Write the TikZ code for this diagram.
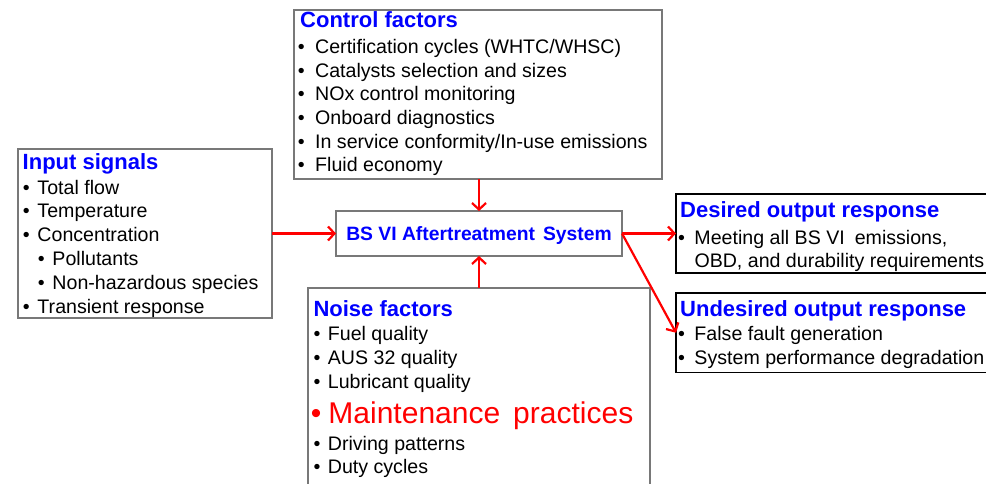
\documentclass[tikz,border=0pt]{standalone}
\usepackage{fontspec}
\setmainfont{Liberation Sans}
\usetikzlibrary{arrows.meta}
\definecolor{tblue}{RGB}{0,0,255}
\definecolor{tred}{RGB}{255,0,0}
\definecolor{bgray}{RGB}{120,120,120}
\newcommand\bu[1]{\llap{\textbullet\hspace{#1}}}
\tikzset{
 frame/.style={draw=bgray, line width=1.2pt, inner sep=0pt, outer sep=0pt, anchor=north west},
 frameblk/.style={frame, draw=black},
 ttl/.style={anchor=base west, inner sep=0pt, text=tblue, font=\fontsize{22}{26}\selectfont\bfseries},
 itm/.style={anchor=base west, inner sep=0pt, font=\fontsize{19.6}{24}\selectfont},
 arr/.style={draw=tred, line width=2.2pt, -{Straight Barb[length=6.5pt,width=14pt]}}
}
\begin{document}
\begin{tikzpicture}[x=1pt,y=-1pt]
\useasboundingbox (0,0) rectangle (986,484);
% boxes
\node[frame, minimum width=368pt, minimum height=169pt] (ctrl) at (294,10) {};
\node[frame, minimum width=254pt, minimum height=169pt] (inp) at (18,149) {};
\node[frame, minimum width=286pt, minimum height=45pt] (cen) at (336,211) {};
\node[frameblk, minimum width=330pt, minimum height=79pt] (des) at (676,194) {};
\node[frameblk, minimum width=330pt, minimum height=79.5pt] (und) at (676,293) {};
\node[frame, minimum width=342pt, minimum height=215pt] (noise) at (308,288) {};
% control factors
\node[ttl] (ctt) at (300,28) {Control factors};
\foreach \t [count=\i from 0] in {Certification cycles (WHTC/WHSC), Catalysts selection and sizes, NOx control monitoring, Onboard diagnostics, In service conformity/In-use emissions, Fluid economy}
  \node[itm] (c\i) at (315,{53.5+23.66*\i}) {\bu{10.5pt}\t};
% input signals
\node[ttl] (ist) at (22.5,170) {Input signals};
\foreach \xx/\t [count=\i from 0] in {37.3/Total flow, 37.3/Temperature, 37.3/Concentration, 52.3/Pollutants, 52.3/Non-hazardous species, 37.3/Transient response}
  \node[itm] (s\i) at (\xx,{194+23.9*\i}) {\bu{7.8pt}\t};
% center
\node[anchor=base, inner sep=0pt, text=tblue, font=\fontsize{19.3}{23}\selectfont\bfseries] (cent) at (479,240.5) {BS VI Aftertreatment\hspace{8pt}System};
% desired
\node[ttl] (dt) at (680,217.5) {Desired output response};
\node[itm] (d0) at (694.3,244) {\bu{9.5pt}Meeting all BS VI\hspace{10pt}emissions,};
\node[itm] (d1) at (694.3,267) {OBD, and durability requirements};
% undesired
\node[ttl] (ut) at (680,316.7) {Undesired output response};
\node[itm] (u0) at (694.3,340) {\bu{9.5pt}False fault generation};
\node[itm] (u1) at (694.3,364.3) {\bu{9.5pt}System performance degradation};
% noise
\node[ttl] (nt) at (313.3,316) {Noise factors};
\node[itm] (n0) at (327.7,340) {\bu{7.5pt}Fuel quality};
\node[itm] (n1) at (327.7,364) {\bu{7.5pt}AUS 32 quality};
\node[itm] (n2) at (327.7,388.5) {\bu{7.5pt}Lubricant quality};
\node[itm, text=tred, font=\fontsize{30}{36}\selectfont] (n3) at (328.3,423.3) {\bu{7pt}Maintenance\hspace{13pt}practices};
\node[itm] (n4) at (327.7,450.7) {\bu{7.5pt}Driving patterns};
\node[itm] (n5) at (327.7,473.3) {\bu{7.5pt}Duty cycles};
% arrows
\draw[arr] (cen.north |- ctrl.south) -- (cen.north);
\draw[arr] (noise.north) -- (cen.south);
\draw[arr] (inp.east |- cen.west) -- (cen.west);
\draw[arr] (cen.east) -- (des.west |- cen.east);
\draw[arr] (cen.east) -- (und.west);
\end{tikzpicture}
\end{document}
